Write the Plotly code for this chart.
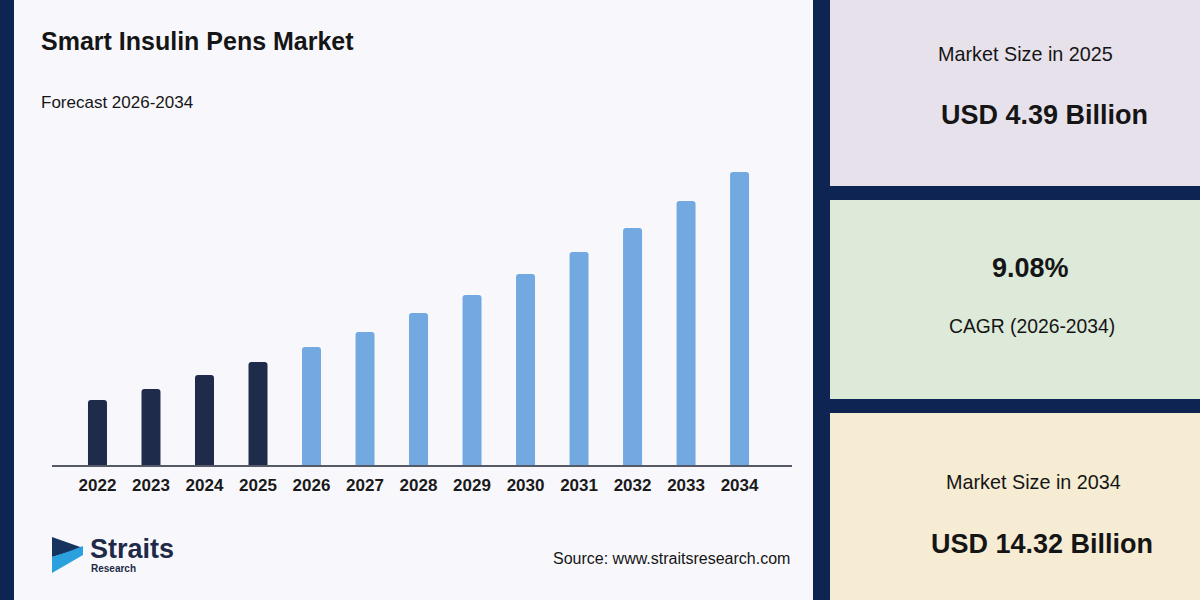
import plotly.graph_objects as go

# ---------------- data ----------------
years = ["2022", "2023", "2024", "2025", "2026", "2027", "2028",
         "2029", "2030", "2031", "2032", "2033", "2034"]
market_size = [2.77, 3.24, 3.84, 4.39, 5.03, 5.67, 6.48,
               7.25, 8.14, 9.08, 10.10, 11.25, 12.49]
historical_years = ["2022", "2023", "2024", "2025"]

title_text = "Smart Insulin Pens Market"
subtitle_text = "Forecast 2026-2034"
source_text = "Source: www.straitsresearch.com"
card_labels = ["Market Size in 2025", "CAGR (2026-2034)", "Market Size in 2034"]
card_values = ["USD 4.39 Billion", "9.08%", "USD 14.32 Billion"]

# ---------------- styling ----------------
W, H = 1200, 600
NAVY = "#0e2452"
DARK_BAR = "#1f2b4b"
LIGHT_BAR = "#72a9e0"
FONT = "Liberation Sans, Arial, sans-serif"


def px(x):
    return x / W


def py(y):
    return 1 - y / H


bar_colors = [DARK_BAR if y in historical_years else LIGHT_BAR for y in years]

fig = go.Figure()
fig.add_trace(go.Bar(
    x=years, y=market_size,
    marker=dict(color=bar_colors, line=dict(width=0)),
    width=0.355,
    hoverinfo="x+y",
))

# axis geometry
base_y = 465
px_per_unit = 103 / 4.39
y_top = base_y / px_per_unit

shapes = []
# white main panel
shapes.append(dict(type="rect", xref="paper", yref="paper",
                   x0=px(14), x1=px(813), y0=py(600), y1=py(0),
                   fillcolor="#f8f8fc", line=dict(width=0), layer="below"))


def card(x0, y0, x1, y1, color):
    return dict(type="rect", xref="paper", yref="paper",
                x0=px(x0), x1=px(x1), y0=py(y1), y1=py(y0),
                fillcolor=color, line=dict(width=0), layer="below")


shapes.append(card(830, -2, 1202, 186, "#e7e1eb"))
shapes.append(card(830, 200, 1202, 399, "#dde9d9"))
shapes.append(card(830, 413, 1202, 602, "#f5ecd3"))


# logo chevron
def poly(points, color):
    d = "M " + " L ".join(f"{px(x)} {py(y)}" for x, y in points) + " Z"
    return dict(type="path", xref="paper", yref="paper", path=d,
                fillcolor=color, line=dict(width=0), layer="above")


shapes.append(poly([(52, 537), (83, 548), (66, 553), (52, 557)], "#16325f"))
shapes.append(poly([(52, 557), (70, 551), (83, 546), (83, 555), (52, 573)], "#2aa0df"))

annotations = []


def txt(x, y, s, size, bold=False, xanchor="left", color="#151515"):
    annotations.append(dict(
        x=px(x), y=py(y), xref="paper", yref="paper",
        text=f"<b>{s}</b>" if bold else s, showarrow=False,
        xanchor=xanchor, yanchor="middle",
        font=dict(family=FONT, size=size, color=color)))


txt(39, 41, title_text, 25, bold=True)
txt(39, 103, subtitle_text, 17)
txt(792, 558, source_text, 16, xanchor="right")
txt(88, 549, "Straits", 27, bold=True, color="#1e2a48")
txt(89, 568, "Research", 10, bold=True, color="#1e2a48")

txt(1025, 54, card_labels[0], 19.8, xanchor="center")
txt(1044, 115, card_values[0], 27, bold=True, xanchor="center")
txt(1030, 268, card_values[1], 27, bold=True, xanchor="center")
txt(1032, 326, card_labels[1], 19.3, xanchor="center")
txt(1033, 482, card_labels[2], 19.8, xanchor="center")
txt(1042, 544, card_values[2], 27, bold=True, xanchor="center")

fig.update_layout(
    width=W, height=H,
    margin=dict(l=0, r=0, t=0, b=0),
    paper_bgcolor=NAVY,
    plot_bgcolor="rgba(0,0,0,0)",
    showlegend=False,
    barcornerradius=3,
    shapes=shapes,
    annotations=annotations,
    xaxis=dict(
        domain=[px(52), px(792)],
        range=[-0.85, 12.98],
        showline=True, linecolor="#555a66", linewidth=1.5,
        showgrid=False, zeroline=False, ticks="",
        ticklabelstandoff=4,
        tickfont=dict(family=FONT, size=17, color="#1a1a1a", weight="bold"),
        fixedrange=True,
    ),
    yaxis=dict(
        domain=[py(base_y), 1],
        range=[0, y_top],
        visible=False, showgrid=False, zeroline=False,
        fixedrange=True,
    ),
)

fig.write_html("out.html")
